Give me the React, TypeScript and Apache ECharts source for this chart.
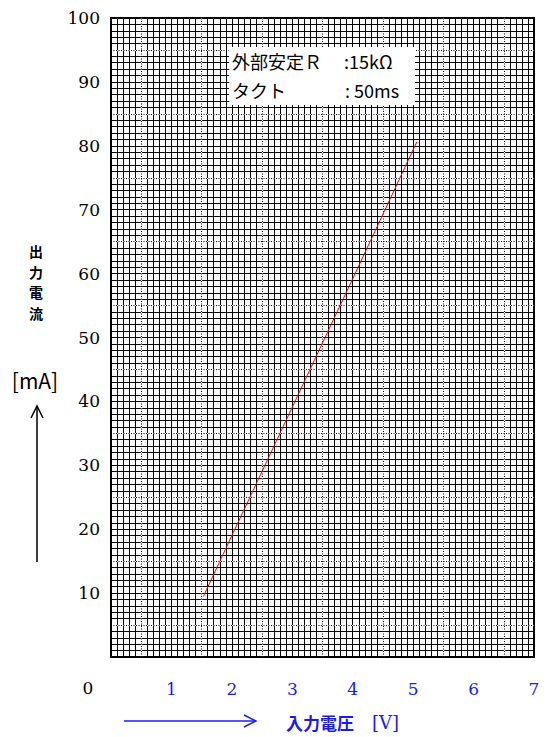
import React, { useEffect, useRef } from "react";
import * as echarts from "echarts";

// Axis ticks
const voltageTicks = [0, 1, 2, 3, 4, 5, 6, 7];
const currentTicks = [0, 10, 20, 30, 40, 50, 60, 70, 80, 90, 100];
// Dotted half-division lines of the graph paper
const halfVoltages = [0.5, 1.5, 2.5, 3.5, 4.5, 5.5, 6.5];
const halfCurrents = [5, 15, 25, 35, 45, 55, 65, 75, 85, 95];
// Measured characteristic (input voltage [V] -> output current [mA])
const inputVoltage = [1.53, 2, 3, 4, 5.06];
const outputCurrent = [9.5, 19, 39.1, 59.2, 80.6];
// Texts
const noteLabels = ["外部安定Ｒ", "タクト"];
const noteValues = [":15kΩ", ": 50ms"];
const yTitleChars = ["出", "力", "電", "流"];

const serif = "'DejaVu Serif', 'Liberation Serif', serif";
const gothic = "'Noto Sans CJK JP', 'Noto Sans', sans-serif";

export default function App() {
  const ref = useRef<HTMLDivElement>(null);
  useEffect(() => {
    if (!ref.current) return;
    const chart = echarts.init(ref.current, null, { renderer: "svg" });
    const points = inputVoltage.map((v, i) => [v, outputCurrent[i]]);
    const gridLine = { color: "#000", width: 1 };
    const halfLines = [
      ...halfVoltages.map((v) => ({ xAxis: v })),
      ...halfCurrents.map((v) => ({ yAxis: v })),
    ];
    chart.setOption({
      animation: false,
      backgroundColor: "#fff",
      grid: {
        left: 111,
        top: 18,
        width: 423,
        height: 639,
        show: true,
        borderColor: "#000",
        borderWidth: 2,
        backgroundColor: "#fff",
      },
      xAxis: {
        type: "value",
        min: voltageTicks[0],
        max: voltageTicks[voltageTicks.length - 1],
        interval: 1,
        axisLine: { show: false },
        axisTick: { show: false },
        splitLine: { show: true, lineStyle: gridLine },
        minorTick: { show: false, splitNumber: 10 },
        minorSplitLine: { show: true, lineStyle: gridLine },
        axisLabel: {
          margin: 23,
          color: "#1a1aff",
          fontFamily: serif,
          fontSize: 17,
          formatter: (v: number) => (v === 0 ? "" : String(v)),
        },
      },
      yAxis: {
        type: "value",
        min: currentTicks[0],
        max: currentTicks[currentTicks.length - 1],
        interval: 10,
        axisLine: { show: false },
        axisTick: { show: false },
        splitLine: { show: true, lineStyle: gridLine },
        minorTick: { show: false, splitNumber: 10 },
        minorSplitLine: { show: true, lineStyle: gridLine },
        axisLabel: {
          margin: 11,
          color: "#000",
          fontFamily: serif,
          fontSize: 17,
          formatter: (v: number) => (v === 0 ? "" : String(v)),
        },
      },
      series: [
        {
          type: "line",
          data: points,
          symbol: "none",
          lineStyle: { opacity: 0 },
          z: 3,
          markLine: {
            silent: true,
            symbol: ["none", "none"],
            label: { show: false },
            lineStyle: { color: "#fff", width: 1.2, type: "solid" },
            data: halfLines,
          },
        },
        {
          type: "line",
          data: points,
          symbol: "none",
          lineStyle: { opacity: 0 },
          z: 4,
          markLine: {
            silent: true,
            symbol: ["none", "none"],
            label: { show: false },
            lineStyle: { color: "#000", width: 1, type: [1, 1.5] },
            data: halfLines,
          },
        },
        {
          type: "line",
          data: points,
          symbol: "none",
          z: 5,
          lineStyle: { color: "#ff0000", width: 1 },
        },
      ],
      graphic: [
        {
          type: "rect",
          z: 100,
          shape: { x: 229, y: 47, width: 186, height: 58 },
          style: { fill: "#fff" },
        },
        {
          type: "text",
          z: 101,
          x: 232,
          y: 61,
          style: { text: noteLabels[0], font: `18px ${gothic}`, fill: "#000", verticalAlign: "middle" },
        },
        {
          type: "text",
          z: 101,
          x: 344,
          y: 61,
          style: { text: noteValues[0], font: `18px ${gothic}`, fill: "#000", verticalAlign: "middle" },
        },
        {
          type: "text",
          z: 101,
          x: 232,
          y: 90,
          style: { text: noteLabels[1], font: `18px ${gothic}`, fill: "#000", verticalAlign: "middle" },
        },
        {
          type: "text",
          z: 101,
          x: 345,
          y: 90,
          style: { text: noteValues[1], font: `18px ${gothic}`, fill: "#000", verticalAlign: "middle" },
        },
        {
          type: "text",
          z: 101,
          x: 88,
          y: 688,
          style: { text: "0", font: `17px ${serif}`, fill: "#000", align: "center", verticalAlign: "middle" },
        },
        ...yTitleChars.map((c, i) => ({
          type: "text",
          z: 101,
          x: 36,
          y: 251 + i * 20.5,
          style: {
            text: c,
            font: `bold 14px ${gothic}`,
            lineHeight: 14,
            fill: "#000",
            align: "center",
            verticalAlign: "middle",
          },
        })),
        {
          type: "text",
          z: 101,
          x: 35,
          y: 380,
          style: { text: "[mA]", font: `21px ${gothic}`, fill: "#000", align: "center", verticalAlign: "middle" },
        },
        {
          type: "line",
          z: 101,
          shape: { x1: 37, y1: 562, x2: 37, y2: 406 },
          style: { stroke: "#000", lineWidth: 1.5 },
        },
        {
          type: "polyline",
          z: 101,
          shape: { points: [[31, 418], [37, 406], [43, 418]] },
          style: { stroke: "#000", lineWidth: 1.5, fill: "none" },
        },
        {
          type: "line",
          z: 101,
          shape: { x1: 124, y1: 721, x2: 256, y2: 721 },
          style: { stroke: "#1a1aff", lineWidth: 1.5 },
        },
        {
          type: "polyline",
          z: 101,
          shape: { points: [[244, 715], [256, 721], [244, 727]] },
          style: { stroke: "#1a1aff", lineWidth: 1.5, fill: "none" },
        },
        {
          type: "text",
          z: 101,
          x: 286,
          y: 722,
          style: { text: "入力電圧", font: `bold 17px ${gothic}`, fill: "#1a1aff", verticalAlign: "middle" },
        },
        {
          type: "text",
          z: 101,
          x: 372,
          y: 722,
          style: { text: "[V]", font: `18px ${serif}`, fill: "#1a1aff", verticalAlign: "middle" },
        },
      ],
    });
    return () => chart.dispose();
  }, []);
  return (
    <div
      ref={ref}
      style={{ position: "fixed", left: 0, top: 0, width: 550, height: 737 }}
    />
  );
}
